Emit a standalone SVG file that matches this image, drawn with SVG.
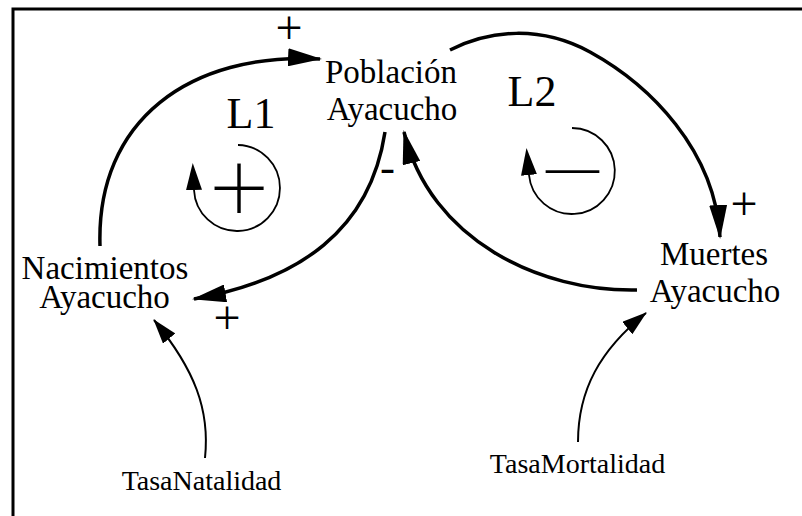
<svg xmlns="http://www.w3.org/2000/svg" width="802" height="516" viewBox="0 0 802 516">
<defs>
<style>
.lbl{font-family:"Liberation Serif","Times New Roman",serif;fill:#000;text-anchor:middle}
.node{font-size:33px}
.tasa{font-size:28px}
.loopname{font-size:44px}
.pol{font-size:48px}
.main{fill:none;stroke:#000;stroke-width:3.5}
.aux{fill:none;stroke:#000;stroke-width:2}
.loop{fill:none;stroke:#000;stroke-width:1.8}
.thin{stroke:#fff;stroke-width:2}
</style>
<marker id="big" markerUnits="userSpaceOnUse" viewBox="0 0 34 18" refX="32" refY="9" markerWidth="34" markerHeight="18" orient="auto">
<path d="M0,0 L34,9 L0,18 Z" fill="#000"/>
</marker>
<marker id="small" markerUnits="userSpaceOnUse" viewBox="0 0 25 16" refX="24" refY="8" markerWidth="25" markerHeight="16" orient="auto">
<path d="M0,0 L25,8 L0,16 Z" fill="#000"/>
</marker>
<marker id="loopArrow" markerUnits="userSpaceOnUse" viewBox="0 0 27 16" refX="0" refY="8" markerWidth="27" markerHeight="16" orient="auto">
<path d="M0,0 L27,8 L0,16 Z" fill="#000"/>
</marker>
</defs>
<rect width="802" height="516" fill="#fff"/>
<path d="M13,516 L13,9 L802,9" fill="none" stroke="#000" stroke-width="3"/>

<g id="connectors">
<path class="main" d="M100,246 C96,120 190,52 320,59" marker-end="url(#big)"/>
<path class="main" d="M385,132 C370,230 300,280 194,299" marker-end="url(#big)"/>
<path class="main" d="M637,290 C540,292 430,240 404,132" marker-end="url(#big)"/>
<path class="main" d="M450,50 C490,30 540,25 590,52 C650,85 715,150 720,237" marker-end="url(#big)"/>
<path class="aux" d="M205,458 C210,410 195,370 154,320" marker-end="url(#small)"/>
<path class="aux" d="M578,442 C578,390 600,350 646,313" marker-end="url(#small)"/>
<text class="lbl pol" x="289" y="44">+</text>
<text class="lbl pol" x="227" y="334">+</text>
<text class="lbl pol" x="744" y="220">+</text>
<text class="lbl" x="387.5" y="182" style="font-size:45px">-</text>
</g>

<g id="loop-L1">
<text class="lbl loopname" x="251" y="128">L1</text>
<path class="loop" d="M238,145 A43,43 0 1 1 194,190" marker-end="url(#loopArrow)"/>
<text class="lbl thin" x="239" y="225" style="font-size:110px">+</text>
</g>

<g id="loop-L2">
<text class="lbl loopname" x="532" y="106">L2</text>
<path class="loop" d="M572,128 A43,43 0 1 1 529,175" marker-end="url(#loopArrow)"/>
<text class="lbl" x="572.5" y="184" style="font-size:53px">—</text>
</g>

<g id="node-poblacion">
<text class="lbl node" x="391" y="83">Población</text>
<text class="lbl node" x="392" y="120">Ayacucho</text>
</g>
<g id="node-nacimientos">
<text class="lbl node" x="105" y="279">Nacimientos</text>
<text class="lbl node" x="104.5" y="308">Ayacucho</text>
</g>
<g id="node-muertes">
<text class="lbl node" x="714" y="265">Muertes</text>
<text class="lbl node" x="715" y="302">Ayacucho</text>
</g>
<g id="node-tasanatalidad">
<text class="lbl tasa" x="201.5" y="490">TasaNatalidad</text>
</g>
<g id="node-tasamortalidad">
<text class="lbl tasa" x="577.5" y="473">TasaMortalidad</text>
</g>
</svg>
